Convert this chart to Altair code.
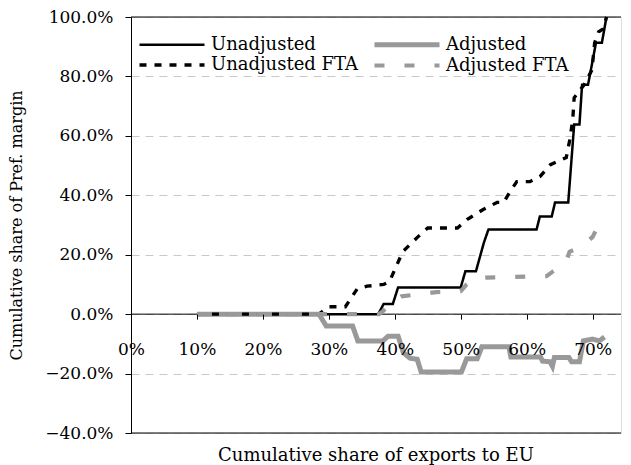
import altair as alt
import pandas as pd

# scale order (line widths grow along it); legend order is given separately
series_names = ["Unadjusted", "Unadjusted FTA", "Adjusted FTA", "Adjusted"]
legend_order = ["Unadjusted", "Unadjusted FTA", "Adjusted", "Adjusted FTA"]
series_colors = ["#000000", "#000000", "#999999", "#999999"]
series_dash = [[1, 0], [7, 8], [10, 20], [1, 0]]
width_range = [2.5, 5]

# values in percent
unadj_x = [10, 37.5, 38.3, 39.7, 40.5, 50, 50.7, 52.3, 53.5, 54.2, 61.5, 62, 63.8, 64.3, 66.3, 67.2, 68, 68.4, 69.3, 69.8, 70.5, 71.4, 72.1]
unadj_y = [0, 0, 3.4, 3.4, 9, 9, 14.4, 14.4, 24, 28.5, 28.5, 32.9, 32.9, 37.6, 37.6, 63.8, 63.8, 77.2, 77.2, 83, 91.3, 91.3, 100]

adj_x = [10, 28.5, 29.6, 33.6, 34.4, 38.2, 39, 40.5, 41.3, 42.3, 43.4, 44, 50.1, 50.9, 52.5, 53.2, 57.3, 57.6, 62.1, 62.4, 63.5, 63.9, 64.2, 66.4, 66.8, 68, 68.6, 70, 71, 71.8]
adj_y = [0, 0, -4, -4, -9, -9, -7.4, -7.4, -13, -14.8, -15.2, -19.5, -19.5, -15, -15, -11, -11, -14.4, -14.4, -15.8, -16, -17.6, -14.6, -14.6, -16, -16, -9, -8.4, -9, -7.7]

unadj_fta_x = [10, 28.5, 30, 32.5, 34.3, 35.8, 38.3, 39.2, 40, 41.2, 43.5, 45, 49.5, 51, 53.4, 55.5, 56.5, 57.5, 58.5, 60.5, 62, 63.6, 66, 66.6, 67, 67.2, 68.7, 69.9, 70.3, 70.9, 71.6, 72.1]
unadj_fta_y = [0, 0, 2.5, 2.5, 8.5, 9.4, 10, 11, 15, 21, 26, 29, 29, 31.9, 35.2, 37.6, 37.6, 41.3, 44.6, 44.6, 46.3, 50.3, 52.7, 59.4, 66, 72.8, 77.2, 82.2, 91.3, 95, 96, 100]

adj_fta_x = [10, 37.6, 38.2, 39.5, 41, 46.3, 50, 50.9, 52.2, 53.9, 63, 64, 65.5, 66.1, 66.5, 68, 69.1, 70, 71, 71.8]
adj_fta_y = [0, 0, 1, 4, 6, 7.4, 7.7, 10, 12, 12.3, 12.8, 14.4, 16.5, 18.5, 21, 22.5, 24.2, 26, 30.5, 31.5]

x_ticks = [0, 0.1, 0.2, 0.3, 0.4, 0.5, 0.6, 0.7]
y_ticks = [-0.4, -0.2, 0, 0.2, 0.4, 0.6, 0.8, 1.0]
frame_lines = [1.0, 0.0, -0.4]
x_domain = [0, 0.743]
y_domain = [-0.4, 1.0]

rows = []
for name, xs, ys in [
    ("Unadjusted", unadj_x, unadj_y),
    ("Adjusted", adj_x, adj_y),
    ("Unadjusted FTA", unadj_fta_x, unadj_fta_y),
    ("Adjusted FTA", adj_fta_x, adj_fta_y),
]:
    for i, (a, b) in enumerate(zip(xs, ys)):
        rows.append({"series": name, "x": a / 100, "y": b / 100, "order": i})
df = pd.DataFrame(rows)
frame = pd.DataFrame({"y": frame_lines})

W = 490
H = 416
FONT = "DejaVu Serif"
x_axis_offset = -H * (0 - y_domain[0]) / (y_domain[1] - y_domain[0])

y_enc = alt.Y(
    "y:Q",
    scale=alt.Scale(domain=y_domain, nice=False, zero=False),
    axis=alt.Axis(
        values=y_ticks, format=".1%", title="Cumulative share of Pref. margin",
        titleFontSize=16, titleFontWeight="normal", titleFont=FONT, titleColor="black",
        labelFont=FONT, labelFontSize=17, labelColor="black", labelPadding=12,
        tickSize=6, tickColor="black", domainColor="black", titlePadding=20,
        grid=True, gridDash=[8, 6], gridColor="#c8c8c8",
    ),
)

rules = alt.Chart(frame).mark_rule(color="black", strokeWidth=1).encode(y=y_enc)

leg = alt.Legend(
    orient="none", legendX=6, legendY=17, columns=2, title=None,
    values=legend_order,
    symbolType="M-1,0H7.125", symbolSize=256, labelFont=FONT, labelFontSize=18,
    labelColor="black", labelOffset=53, columnPadding=5, rowPadding=0,
)

lines = alt.Chart(df).mark_line().encode(
    x=alt.X(
        "x:Q",
        scale=alt.Scale(domain=x_domain, nice=False, zero=False),
        axis=alt.Axis(
            values=x_ticks, format=".0%", offset=x_axis_offset, domain=False,
            tickSize=5, tickColor="black", labelPadding=22, grid=False, zindex=1,
            labelFlush=False, title=None, labelFont=FONT, labelFontSize=17,
            labelColor="black",
        ),
    ),
    y=y_enc,
    color=alt.Color("series:N", scale=alt.Scale(domain=series_names, range=series_colors), legend=leg),
    strokeDash=alt.StrokeDash("series:N", scale=alt.Scale(domain=series_names, range=series_dash), legend=leg),
    strokeWidth=alt.StrokeWidth("series:N", scale=alt.Scale(domain=series_names, range=width_range), legend=leg),
    order="order:Q",
)

chart = alt.layer(rules, lines).properties(
    width=W, height=H, padding=0,
    title=alt.TitleParams(
        "Cumulative share of exports to EU", orient="bottom", anchor="middle",
        fontSize=18, fontWeight="normal", font=FONT, color="black", offset=6,
    ),
).configure_view(stroke=None).configure(font=FONT)

chart.save("out.html", embed_options={"renderer": "svg", "actions": False})
